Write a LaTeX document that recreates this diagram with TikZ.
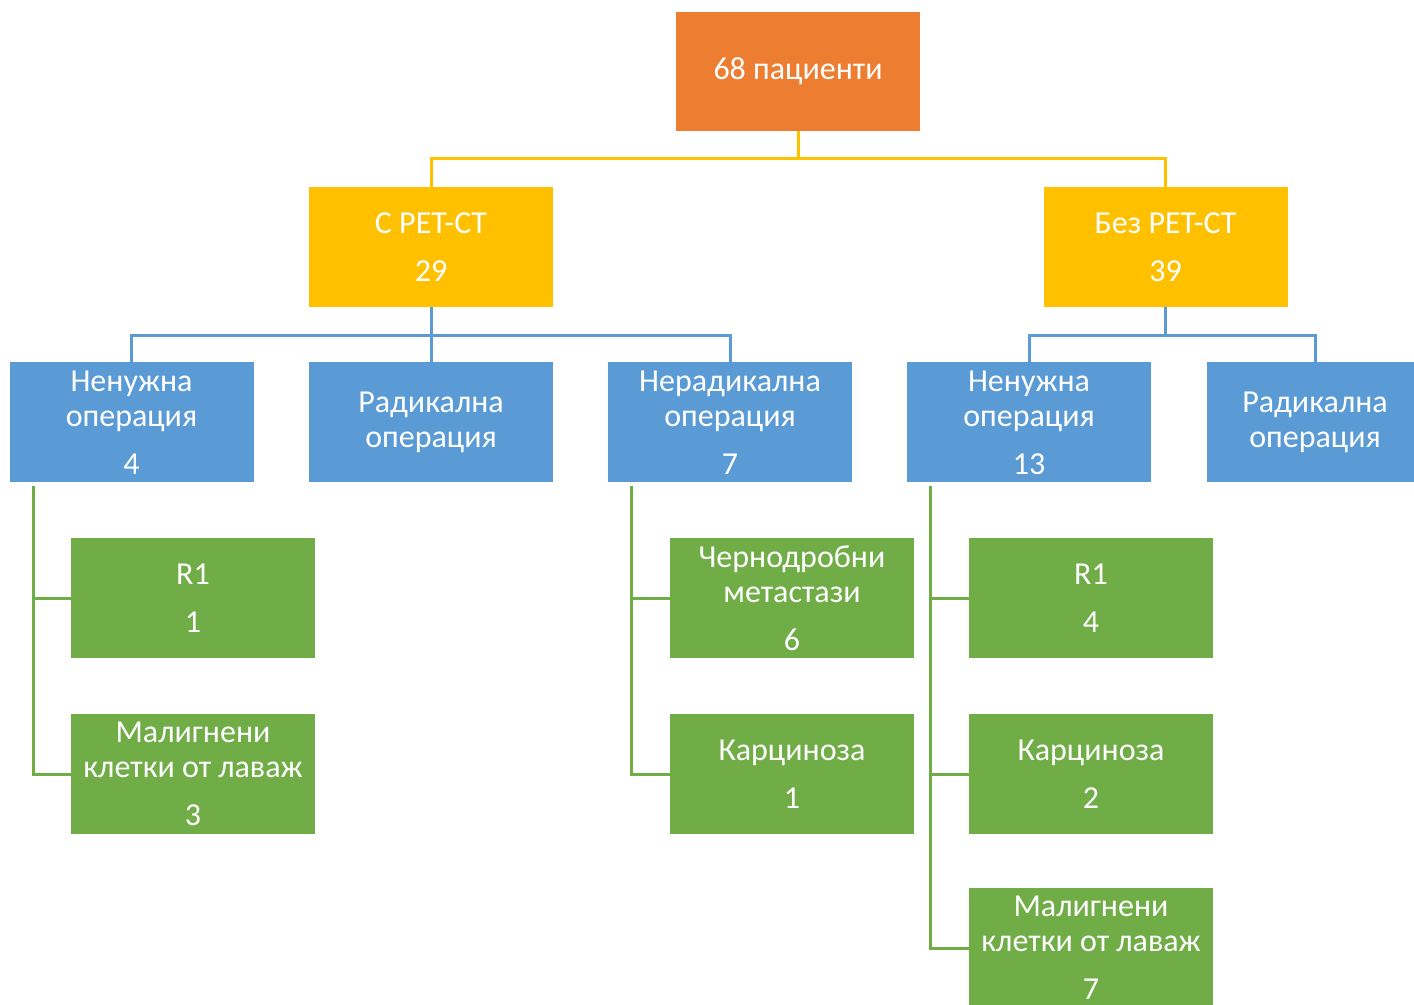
\documentclass[tikz,border=0pt]{standalone}
\usepackage{fontspec}
\setmainfont{Carlito}
\usetikzlibrary{positioning,calc}
\definecolor{rootorange}{RGB}{237,125,49}
\definecolor{lvlyellow}{RGB}{255,192,0}
\definecolor{lvlblue}{RGB}{91,155,213}
\definecolor{leafgreen}{RGB}{112,173,71}

\begin{document}
\begin{tikzpicture}[x=0.5pt, y=-0.5pt,
    box/.style={minimum width=122pt, minimum height=60pt, inner sep=0pt,
      text=white, align=center, font=\fontsize{16}{17.5}\selectfont},
    rootbox/.style={box, fill=rootorange, minimum height=59.5pt},
    armbox/.style={box, fill=lvlyellow},
    opbox/.style={box, fill=lvlblue},
    leafbox/.style={box, fill=leafgreen},
    yconn/.style={draw=lvlyellow, line width=1.5pt},
    bconn/.style={draw=lvlblue, line width=1.5pt},
    gconn/.style={draw=leafgreen, line width=1.5pt}]
    \useasboundingbox (0,0) rectangle (1414,1005);

    % Root
    \node[rootbox] (root) at (798,71.5) {68 пациенти};

    % Arms
    \node[armbox] (c1) at (431,247) {С PET-CT\\[6.5pt]29};
    \node[armbox] (c2) at (1165.5,247) {Без PET-CT\\[6.5pt]39};

    % Operations
    \node[opbox] (b1) at (131.5,422.5) {Ненужна\\операция\\[6.5pt]4};
    \node[opbox] (b2) at (431,422.5) {Радикална\\операция};
    \node[opbox] (b3) at (730,422.5) {Нерадикална\\операция\\[6.5pt]7};
    \node[opbox] (b4) at (1029,422.5) {Ненужна\\операция\\[6.5pt]13};
    \node[opbox, minimum width=108pt] (b5) at (1315,422.5) {Радикална\\операция};

    % Findings
    \node[leafbox] (g1) at (193,598) {R1\\[6.5pt]1};
    \node[leafbox] (g2) at (193,774) {Малигнени\\клетки от лаваж\\[6.5pt]3};
    \node[leafbox] (g3) at (792,598) {Чернодробни\\метастази\\[6.5pt]6};
    \node[leafbox] (g4) at (792,774) {Карциноза\\[6.5pt]1};
    \node[leafbox] (g5) at (1091,598) {R1\\[6.5pt]4};
    \node[leafbox] (g6) at (1091,774) {Карциноза\\[6.5pt]2};
    \node[leafbox] (g7) at (1091,948) {Малигнени\\клетки от лаваж\\[6.5pt]7};

    % Connectors
    \draw[yconn] (root.south) -- ++(0,27) -| (c1.north);
    \draw[yconn] (root.south) -- ++(0,27) -| (c2.north);

    \foreach \b in {b1,b2,b3}
        \draw[bconn] (c1.south) -- ++(0,28) -| (\b.north);
    \foreach \b in {b4,b5}
        \draw[bconn] (c2.south) -- ++(0,28) -| (\b.north);

    \coordinate (s1) at ($(b1.south west)+(24,3)$);
    \coordinate (s3) at ($(b3.south west)+(24,3)$);
    \coordinate (s4) at ($(b4.south west)+(24,3)$);
    \draw[gconn] (s1) |- (g1.west);
    \draw[gconn] (s1) |- (g2.west);
    \draw[gconn] (s3) |- (g3.west);
    \draw[gconn] (s3) |- (g4.west);
    \draw[gconn] (s4) |- (g5.west);
    \draw[gconn] (s4) |- (g6.west);
    \draw[gconn] (s4) |- (g7.west);
\end{tikzpicture}
\end{document}
